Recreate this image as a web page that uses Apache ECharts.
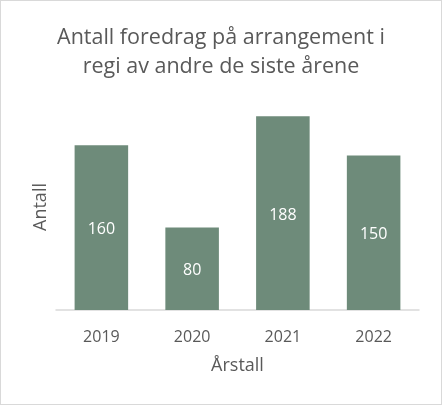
<!DOCTYPE html>
<html><head><meta charset="utf-8">
<script src="https://cdn.jsdelivr.net/npm/echarts@6/dist/echarts.min.js"></script>
<style>html,body{margin:0;padding:0;background:#fff}#c{width:442px;height:405px;box-sizing:border-box;border:1px solid #D9D9D9}</style>
</head><body><div id="c"></div>
<script>
const categories = ['2019','2020','2021','2022'];
const values = [160, 80, 188, 150];
const titleText = 'Antall foredrag på arrangement i\nregi av andre de siste årene';
const chart = echarts.init(document.getElementById('c'));
chart.setOption({
  animation:false,
  title:{text:titleText,left:'center',top:17,textStyle:{fontFamily:'Open Sans',fontSize:21.5,fontWeight:'normal',color:'#595959',lineHeight:29}},
  grid:{left:55,right:22,top:103,bottom:94},
  xAxis:{type:'category',data:categories,name:'Årstall',nameLocation:'middle',nameGap:47,
    nameTextStyle:{fontFamily:'Open Sans',fontSize:18,color:'#595959'},
    axisLine:{lineStyle:{color:'#D9D9D9',width:1.5}},axisTick:{show:false},
    axisLabel:{fontFamily:'Open Sans',fontSize:16,color:'#595959',margin:19}},
  yAxis:{type:'value',min:0,max:200,interval:50,name:'Antall',nameLocation:'middle',nameGap:6,
    nameTextStyle:{fontFamily:'Open Sans',fontSize:18,color:'#595959'},
    axisLabel:{show:false},splitLine:{show:false},axisLine:{show:false},axisTick:{show:false}},
  series:[{type:'bar',data:values,barCategoryGap:'41%',itemStyle:{color:'#6E8B7A'},
    label:{show:true,position:'inside',offset:[0,2],color:'#fff',fontFamily:'Open Sans',fontSize:16}}]
});
</script></body></html>
